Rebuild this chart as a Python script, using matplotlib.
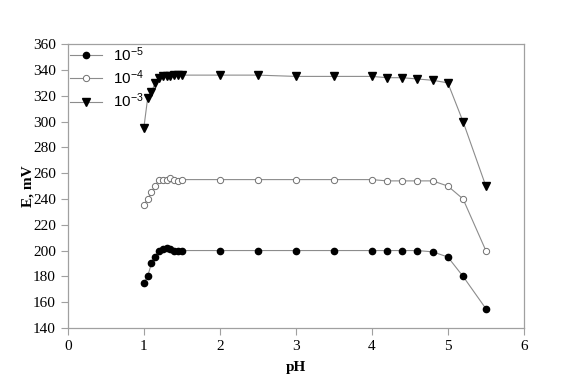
import numpy as np
import matplotlib.pyplot as plt

ph = [1.0, 1.05, 1.1, 1.15, 1.2, 1.25, 1.3, 1.35, 1.4, 1.45, 1.5,
      2.0, 2.5, 3.0, 3.5, 4.0, 4.2, 4.4, 4.6, 4.8, 5.0, 5.2, 5.5]
e_1e5 = [175, 180, 190, 195, 200, 201, 202, 201, 200, 200, 200,
         200, 200, 200, 200, 200, 200, 200, 200, 199, 195, 180, 155]
e_1e4 = [235, 240, 245, 250, 255, 255, 255, 256, 255, 254, 255,
         255, 255, 255, 255, 255, 254, 254, 254, 254, 250, 240, 200]
e_1e3 = [295, 318, 323, 330, 334, 335, 335, 335, 336, 336, 336,
         336, 336, 335, 335, 335, 334, 334, 333, 332, 330, 300, 250]

plt.rcParams['font.family'] = 'Liberation Serif'
plt.rcParams['mathtext.default'] = 'regular'

fig = plt.figure(figsize=(5.7, 3.84), dpi=100)
ax = fig.add_axes([0.119, 0.146, 0.800, 0.739])

line_col = '#8c8c8c'
ax.plot(ph, e_1e5, color=line_col, lw=0.8, marker='o', ms=4.5,
        mfc='black', mec='black', label='10$^{-5}$')
ax.plot(ph, e_1e4, color=line_col, lw=0.8, marker='o', ms=4.5,
        mfc='white', mec='#707070', mew=0.7, label='10$^{-4}$')
ax.plot(ph, e_1e3, color=line_col, lw=0.8, marker='v', ms=5.5,
        mfc='black', mec='black', label='10$^{-3}$')

ax.set_xlim(0, 6)
ax.set_ylim(140, 360)
ax.set_xticks(range(0, 7))
ax.set_yticks(range(140, 361, 20))

for s in ax.spines.values():
    s.set_color('#a0a0a0')
    s.set_linewidth(0.9)
ax.tick_params(direction='out', length=5, color='#a0a0a0', labelsize=11)

ax.set_xlabel('pH', fontweight='bold', fontsize=11, labelpad=6)
ax.set_ylabel('E, mV', fontweight='bold', fontsize=11, labelpad=-1)

leg = ax.legend(loc='upper left', frameon=False, handlelength=2.1,
                prop={'family': 'Liberation Sans', 'size': 11},
                borderaxespad=0.0, borderpad=0.05, labelspacing=0.3,
                handletextpad=0.7, bbox_to_anchor=(0.003, 1.0))

plt.savefig('out.png', dpi=100)
